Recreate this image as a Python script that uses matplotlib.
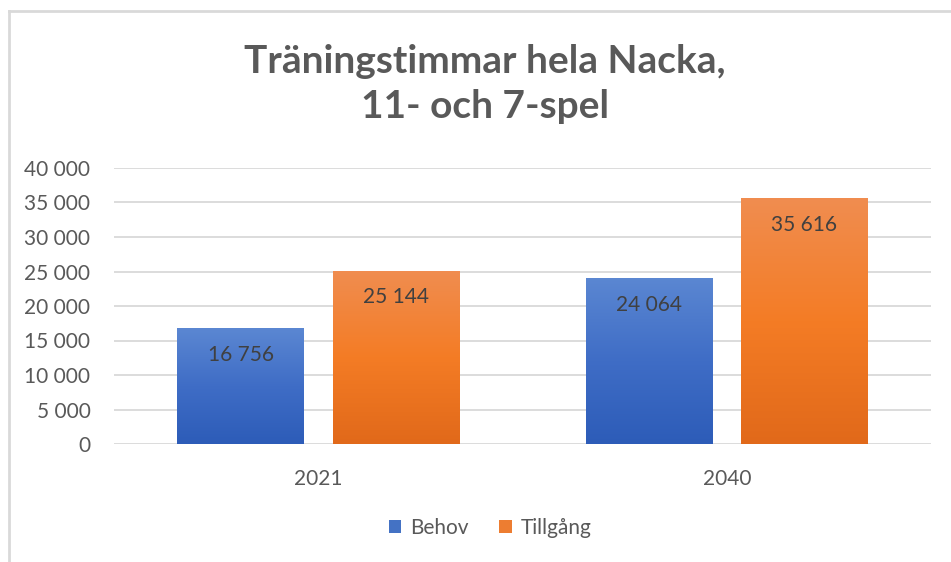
import matplotlib
matplotlib.use("Agg")
import matplotlib.pyplot as plt
import numpy as np
from matplotlib.colors import LinearSegmentedColormap
from matplotlib.lines import Line2D
from matplotlib.patches import Patch

# Data
categories = ["2021", "2040"]
series_names = ["Behov", "Tillgång"]
behov = [16756, 24064]
tillgang = [25144, 35616]
yticks = [0, 5000, 10000, 15000, 20000, 25000, 30000, 35000, 40000]
title = "Träningstimmar hela Nacka,\n11- och 7-spel"

def fmt(v):
    return f"{v:,}".replace(",", " ")

plt.rcParams['font.family'] = ['Lato', 'DejaVu Sans']

fig = plt.figure(figsize=(9.51, 5.62), dpi=100)
ax = fig.add_axes([114/951, 1-444/562, (931-114)/951, (444-168)/562])

x = np.arange(len(categories))
bw = 0.31
off = 0.19
b1 = ax.bar(x - off, behov, bw, color="#4472c4", zorder=2)
b2 = ax.bar(x + off, tillgang, bw, color="#ed7d31", zorder=2)

cmap_blue = LinearSegmentedColormap.from_list("b", ["#2d5cb8", "#3f6dc6", "#5b87d2"])
cmap_or = LinearSegmentedColormap.from_list("o", ["#e1691a", "#f47c25", "#f08d50"])
grad = np.linspace(0, 1, 256).reshape(-1, 1)
for bars, cm in ((b1, cmap_blue), (b2, cmap_or)):
    for p in bars:
        x0, y0 = p.get_x(), p.get_y()
        w, h = p.get_width(), p.get_height()
        im = ax.imshow(grad, cmap=cm, origin="lower", aspect="auto",
                       extent=[x0, x0 + w, y0, y0 + h], zorder=3)
        im.set_clip_path(p)
        p.set_facecolor("none")
        ax.text(x0 + w / 2, y0 + h - 3900, fmt(int(h)), ha="center", va="center",
                fontsize=15, color="#404040", zorder=5)

ax.set_xlim(-0.5, 1.5)
ax.set_ylim(0, 40000)
ax.set_yticks(yticks)
ax.set_yticklabels([fmt(v) for v in yticks])
ax.set_xticks(x)
ax.set_xticklabels(categories)
ax.grid(axis="y", color="#d9d9d9", linewidth=1.3, zorder=0)
ax.set_axisbelow(True)
for s in ax.spines.values():
    s.set_visible(False)
ax.tick_params(axis="y", length=0, pad=17, labelsize=15, labelcolor="#595959")
ax.tick_params(axis="x", length=0, pad=18, labelsize=15, labelcolor="#595959")

fig.text(0.51, 1 - 84/562, title, ha="center", va="center", fontsize=28,
         fontweight="bold", color="#595959", linespacing=1.35)

handles = [Patch(facecolor="#4472c4"), Patch(facecolor="#ed7d31")]
fig.legend(handles, series_names, loc="center", bbox_to_anchor=(490/951, 1 - 528/562),
           ncol=2, frameon=False, fontsize=15, labelcolor="#595959",
           handlelength=0.6, handleheight=0.6, handletextpad=0.4, columnspacing=1.5)

fig.add_artist(Line2D([9/951, 1], [1 - 10.5/562] * 2, transform=fig.transFigure,
                      color="#d9d9d9", linewidth=2))
fig.add_artist(Line2D([9/951] * 2, [0, 1 - 10.5/562], transform=fig.transFigure,
                      color="#d9d9d9", linewidth=2))

fig.savefig("out.png", dpi=100)
